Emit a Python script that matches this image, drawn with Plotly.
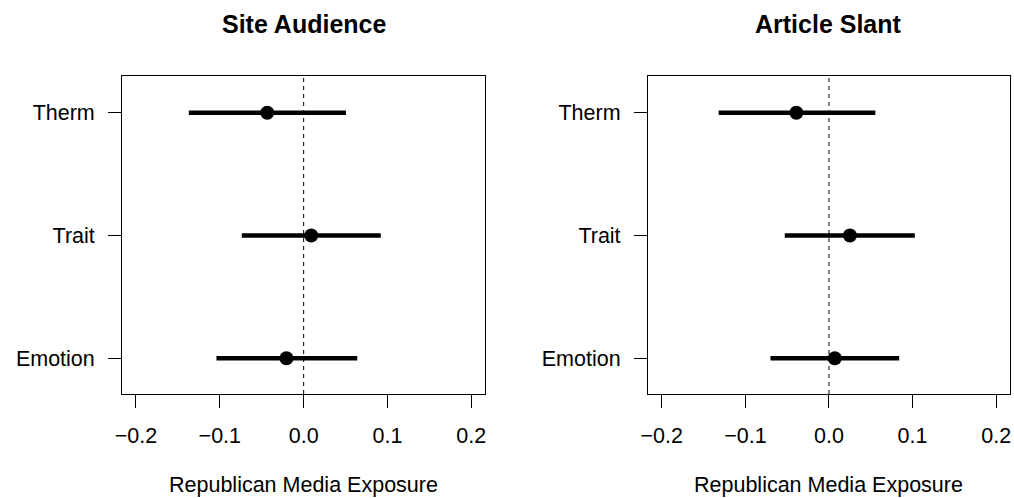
import plotly.graph_objects as go

# ---- data ----
outcomes = ["Emotion", "Trait", "Therm"]  # bottom to top
panel_titles = ["Site Audience", "Article Slant"]
x_title = "Republican Media Exposure"

site_est = [-0.0205, 0.0091, -0.0434]
site_lo = [-0.104, -0.0738, -0.137]
site_hi = [0.064, 0.092, 0.0505]

slant_est = [0.007, 0.0251, -0.039]
slant_lo = [-0.070, -0.0529, -0.132]
slant_hi = [0.084, 0.1027, 0.0555]

x_ticks = [-0.2, -0.1, 0.0, 0.1, 0.2]
x_ticktext = ["\u22120.2", "\u22120.1", "0.0", "0.1", "0.2"]

W, H = 1014, 498
FONT = "Liberation Sans, Arial, Helvetica, sans-serif"
FS = 21.5

fig = go.Figure()

panels = [
    (site_est, site_lo, site_hi, "x", "y"),
    (slant_est, slant_lo, slant_hi, "x2", "y2"),
]

for est, lo, hi, xa, ya in panels:
    xs, ys = [], []
    for o, l, h in zip(outcomes, lo, hi):
        xs += [l, h, None]
        ys += [o, o, None]
    fig.add_trace(go.Scatter(x=xs, y=ys, mode="lines",
                             line=dict(color="black", width=4.5),
                             xaxis=xa, yaxis=ya, showlegend=False,
                             hoverinfo="skip"))
    fig.add_trace(go.Scatter(x=est, y=outcomes, mode="markers",
                             marker=dict(color="black", size=14),
                             xaxis=xa, yaxis=ya, showlegend=False))
    fig.add_shape(type="line", xref=xa, yref=f"{ya} domain",
                  x0=0, x1=0, y0=0, y1=1,
                  line=dict(color="black", width=1, dash="4px,4px"))

ydom = [(H - 394) / H, (H - 76) / H]
xdoms = [[116 / W, 482 / W], [646 / W, 1011 / W]]

axis_common = dict(showline=True, linecolor="black", linewidth=1, mirror=True,
                   ticks="outside", ticklen=13, tickcolor="black", tickwidth=1,
                   showgrid=False, zeroline=False,
                   tickfont=dict(family=FONT, size=FS, color="black"))

xrange = [-0.2166, 0.2166]
yrange = [-0.291, 2.299]
fig.update_layout(
    width=W, height=H,
    margin=dict(l=0, r=0, t=0, b=0),
    plot_bgcolor="white", paper_bgcolor="white",
    font=dict(family=FONT, color="black"),
    xaxis=dict(domain=xdoms[0], range=xrange, tickvals=x_ticks, ticktext=x_ticktext,
               anchor="y", ticklabelstandoff=9, **axis_common),
    xaxis2=dict(domain=xdoms[1], range=xrange, tickvals=x_ticks, ticktext=x_ticktext,
                anchor="y2", ticklabelstandoff=9, **axis_common),
    yaxis=dict(domain=ydom, type="category", categoryorder="array",
               categoryarray=outcomes, range=yrange, anchor="x",
               ticklabelstandoff=9, **axis_common),
    yaxis2=dict(domain=ydom, type="category", categoryorder="array",
                categoryarray=outcomes, range=yrange, anchor="x2",
                ticklabelstandoff=9, **axis_common),
)

for t, d in zip(panel_titles, xdoms):
    cx = (d[0] + d[1]) / 2
    fig.add_annotation(text=f"<b>{t}</b>", x=cx, y=1 - 24 / H, xref="paper", yref="paper",
                       showarrow=False, xanchor="center", yanchor="middle",
                       font=dict(family=FONT, size=25, color="black"))
    fig.add_annotation(text=x_title, x=cx, y=1 - 485 / H, xref="paper", yref="paper",
                       showarrow=False, xanchor="center", yanchor="middle",
                       font=dict(family=FONT, size=FS, color="black"))

fig.write_html("out.html",
               config={"displayModeBar": False},
               post_script="document.body.style.margin='0';document.body.style.overflow='hidden';")
